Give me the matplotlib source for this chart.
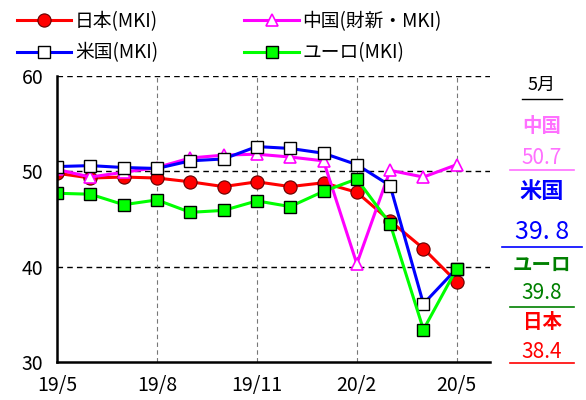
import matplotlib
matplotlib.use("Agg")
import matplotlib.pyplot as plt
from matplotlib.lines import Line2D

plt.rcParams['font.family'] = ['Noto Sans CJK JP', 'DejaVu Sans']

months = ["19/5", "19/6", "19/7", "19/8", "19/9", "19/10", "19/11",
          "19/12", "20/1", "20/2", "20/3", "20/4", "20/5"]
tick_labels = ["19/5", "19/8", "19/11", "20/2", "20/5"]
japan = [49.8, 49.3, 49.4, 49.3, 48.9, 48.4, 48.9, 48.4, 48.8, 47.8, 44.8, 41.9, 38.4]
china = [50.2, 49.4, 49.9, 50.4, 51.4, 51.7, 51.8, 51.5, 51.1, 40.3, 50.1, 49.4, 50.7]
usa = [50.5, 50.6, 50.4, 50.3, 51.1, 51.3, 52.6, 52.4, 51.9, 50.7, 48.5, 36.1, 39.8]
euro = [47.7, 47.6, 46.5, 47.0, 45.7, 45.9, 46.9, 46.3, 47.9, 49.2, 44.5, 33.4, 39.8]

# latest values shown on the right
latest = [("中国", "50.7", "#ff70ff"), ("米国", "39. 8", "#0000ff"),
          ("ユーロ", "39.8", "#008000"), ("日本", "38.4", "#ff0000")]

fig = plt.figure(figsize=(5.86, 4.0), dpi=100)
ax = fig.add_axes([0.0973, 0.095, 0.739, 0.715])
x = list(range(len(months)))

h_jp, = ax.plot(x, japan, color="#ff0000", lw=2.2, marker="o", ms=9.5,
                mfc="#ff0000", mec="#600000", mew=0.8, label="日本(MKI)")
h_cn, = ax.plot(x, china, color="#ff00ff", lw=2.2, marker="^", ms=9,
                mfc="white", mec="#ff00ff", mew=1.2, label="中国(財新・MKI)")
h_us, = ax.plot(x, usa, color="#0000ff", lw=2.2, marker="s", ms=8.5,
                mfc="white", mec="black", mew=1.0, label="米国(MKI)")
h_eu, = ax.plot(x, euro, color="#00ff00", lw=2.2, marker="s", ms=8.5,
                mfc="#00ff00", mec="black", mew=1.0, label="ユーロ(MKI)")

ax.set_xlim(0, 13)
ax.set_ylim(30, 60)
ax.set_yticks([30, 40, 50, 60])
ax.set_xticks([months.index(m) for m in tick_labels])
ax.set_xticklabels(tick_labels)
ax.tick_params(length=0, labelsize=14)
ax.tick_params(axis="y", pad=10)
ax.tick_params(axis="x", pad=9)
for sp in ["top", "right"]:
    ax.spines[sp].set_visible(False)
for sp in ["left", "bottom"]:
    ax.spines[sp].set_linewidth(1.8)
for yv in [40, 50, 60]:
    ax.axhline(yv, color="black", lw=1, ls=(0, (4, 3)), zorder=0)
for xv in [3, 6, 9, 12]:
    ax.axvline(xv, color="#777777", lw=0.8, ls=(0, (4, 3)), zorder=0)

fig.legend(handles=[h_jp, h_us, h_cn, h_eu], loc="upper left",
           bbox_to_anchor=(0.0, 1.015), ncol=2, frameon=False, fontsize=13.5,
           handlelength=2.9, handletextpad=0.2, columnspacing=4.6,
           labelspacing=0.55)

# right-side panel
cx = 542 / 586
def fy(py):
    return 1 - py / 400

fig.text(cx, fy(85), "5月", ha="center", va="center", fontsize=13)
fig.add_artist(Line2D([522 / 586, 562 / 586], [fy(99), fy(99)], color="black", lw=1))
label_y = [127, 192, 265, 323]
num_y = [158, 232, 293, 352]
line_y = [170, 247, 307, 363]
for (name, val, col), ly, ny, uy in zip(latest, label_y, num_y, line_y):
    big = name == "米国"
    fig.text(cx, fy(ly), name, ha="center", va="center", color=col,
             fontsize=16 if big else 14, fontweight="bold")
    fig.text(cx, fy(ny), val, ha="center", va="center", color=col,
             fontsize=18 if big else 15)
    half = 40 if big else 32
    fig.add_artist(Line2D([(cx * 586 - half) / 586, (cx * 586 + half) / 586],
                          [fy(uy), fy(uy)], color=col, lw=1.2))

fig.savefig("out.png", dpi=100)
plt.close(fig)
